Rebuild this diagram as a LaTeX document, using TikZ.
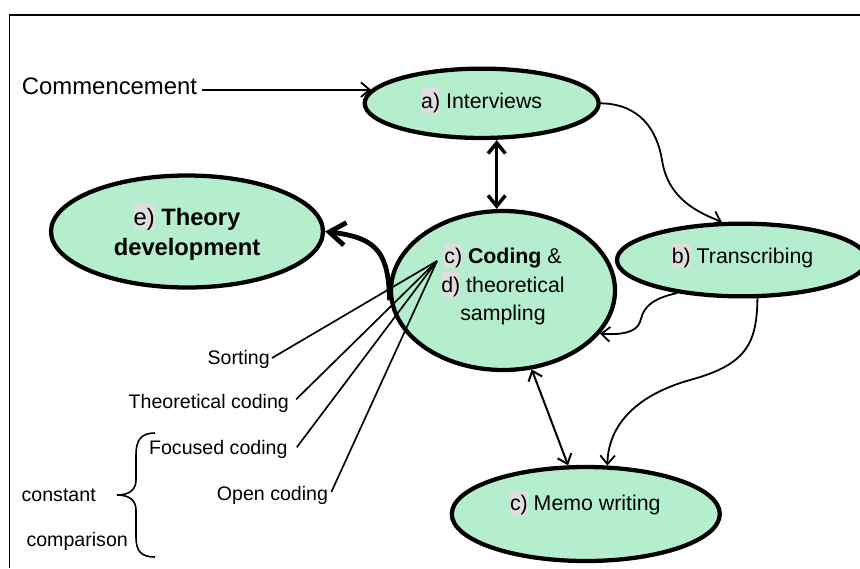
\documentclass[tikz,border=0pt]{standalone}
\usepackage{fontspec}
\setmainfont{Liberation Sans}
\usetikzlibrary{shapes.geometric,arrows.meta,calc}
\definecolor{bubgreen}{RGB}{180,238,204}
\definecolor{hlgray}{RGB}{222,222,222}
\newcommand\hlb[1]{{\setlength{\fboxsep}{0pt}\colorbox{hlgray}{\rule[-0.22em]{0pt}{1.15em}#1}}}
\tikzset{
  bub/.style={ellipse, draw, line width=3.2pt, fill=bubgreen, inner sep=0pt},
  txt/.style={inner sep=0pt, align=center, font=\fontsize{16}{21.4}\selectfont},
  sml/.style={inner sep=0pt, font=\fontsize{14.7}{18}\selectfont},
  conn/.style={line width=1.35pt, -{Straight Barb[length=6.5pt,width=11pt]}},
  dconn/.style={line width=1.5pt, {Straight Barb[length=6.5pt,width=11pt]}-{Straight Barb[length=6.5pt,width=11pt]}},
  fanline/.style={line width=1.25pt},
  thickdbl/.style={line width=2.6pt, {Straight Barb[length=8pt,width=13pt]}-{Straight Barb[length=8pt,width=13pt]}},
  thickarr/.style={line width=3.6pt, -{Straight Barb[length=12pt,width=17pt]}},
}
\begin{document}
\begin{tikzpicture}[x=0.75pt,y=-0.75pt]
\useasboundingbox (0,0) rectangle (860,568);
\fill[white] (0,0) rectangle (860,568);
% frame (top and left)
\draw[line width=1.4pt] (9.5,568) -- (9.5,15) -- (860,15);

% bubbles
\node[bub, minimum width=175.5pt, minimum height=52pt] (int) at (481.7,103.3) {};
\node[bub, minimum width=187.5pt, minimum height=54.5pt] (trans) at (742,260) {};
\node[bub, minimum width=168pt, minimum height=119.25pt] (cod) at (503,290.5) {};
\node[bub, minimum width=204pt, minimum height=84pt] (theory) at (187,231.5) {};
\node[bub, minimum width=201pt, minimum height=70.5pt] (memo) at (585.8,514) {};

% bubble texts
\node[txt] (intT) at (481.7,100.7) {\hlb{a)} Interviews};
\node[txt] (transT) at (742.5,256) {\hlb{b)} Transcribing};
\node[txt] (codT) at (503,284.5) {\hlb{c)} \textbf{Coding} \&\\\hlb{d)} theoretical\\sampling};
\node[txt, font=\fontsize{17.8}{22.5}\selectfont] (theoryT) at (187,231.7) {\hlb{e)} \textbf{Theory}\\\textbf{development}};
\node[txt] (memoT) at (585.3,503.3) {\hlb{c)} Memo writing};

% commencement
\node[inner sep=0pt, anchor=west, font=\fontsize{17.9}{22}\selectfont] (comm) at (21.7,86) {Commencement};
\draw[conn] ($(int.173 -| comm.east)+(5,0)$) -- (int.173);

% small labels
\node[sml] (sort) at (238.7,359) {Sorting};
\node[sml] (theo) at (208.8,403.3) {Theoretical coding};
\node[sml] (foc) at (218.3,449.3) {Focused coding};
\node[sml] (open) at (272.5,495) {Open coding};
\node[sml] (const) at (58.7,495) {constant};
\node[sml] (comp) at (77.2,541.7) {comparison};

% brace
\draw[line width=1.2pt] (155,433) .. controls (141,433) and (136,440) .. (136,455)
  -- (136,480) .. controls (136,490) and (129,495) .. (117,495)
  .. controls (129,495) and (136,500) .. (136,510)
  -- (136,537) .. controls (136,551) and (141,557) .. (155,557);

% fan lines
\coordinate (fan) at (437,261);
\draw[fanline] (fan) -- ($(sort.east)+(2,-1)$);
\draw[fanline] (fan) -- ($(theo.east)+(7,-4)$);
\draw[fanline] (fan) -- ($(foc.east)+(9,-2)$);
\draw[fanline] (fan) -- ($(open.east)+(3,-3)$);

% connectors
\coordinate (ax) at (496.7,0);
\draw[thickdbl] (int.south -| ax) -- (cod.north -| ax);
\draw[conn] (int.east) .. controls (640,104) and (657,130) .. (662,160)
  .. controls (668,200) and (700,213) .. (trans.118);
\draw[conn] (trans.207) .. controls (645,300) and (643,312) .. (640,322)
  .. controls (636,333) and (620,335) .. (cod.-24);
\draw[conn] (trans.-68) .. controls (757,345) and (745,365) .. (690,380)
  .. controls (630,397) and (608,430) .. (memo.66);
\draw[dconn] (cod.-70) -- (memo.110);
\draw[thickarr] (cod.185) .. controls (388,255) and (380,238) .. (theory.east);
\end{tikzpicture}
\end{document}
